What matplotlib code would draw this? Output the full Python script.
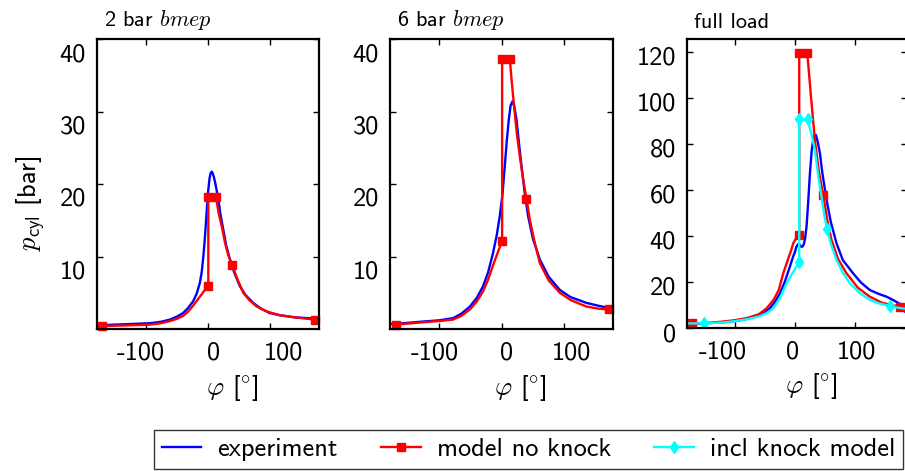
import matplotlib
matplotlib.use("Agg")
import matplotlib.pyplot as plt
import matplotlib.transforms as mtransforms

plt.rcParams["font.family"] = ["cmss10", "DejaVu Sans"]
plt.rcParams["mathtext.fontset"] = "cm"
plt.rcParams["axes.unicode_minus"] = False

# ---- data ------------------------------------------------------------
titles = ["2 bar $bmep$", "6 bar $bmep$", "full load"]

# 2 bar bmep
exp1_x = [-178, -150, -120, -93, -75, -61, -50, -40, -32, -24, -18, -13, -10,
          -7.5, -5.5, -3.7, -1.5, 0.5, 2.5, 4.2, 5.9, 7.5, 9.3, 11.2, 13.5,
          16.5, 20, 24.5, 29, 35.2, 42, 51.2, 60, 72.5, 85, 99, 115, 140, 160,
          178]
exp1_y = [0.5, 0.6, 0.7, 0.8, 1.0, 1.3, 1.7, 2.2, 2.9, 3.8, 4.9, 6.4, 7.9,
          10, 12, 14.2, 17, 19.2, 20.8, 21.5, 21.7, 21.5, 21.0, 20.3, 19.3,
          17.9, 15.8, 13.7, 11.6, 9.6, 7.8, 5.9, 4.7, 3.6, 2.8, 2.2, 1.9, 1.6,
          1.5, 1.4]
mod1_x = [-170, -130, -93, -75, -61, -50, -40, -32, -24, -17, -10, -5, 0.5,
          0.5, 12.8, 17, 21.9, 27, 32, 39, 47, 56.5, 66, 78, 95, 115, 140, 171]
mod1_y = [0.4, 0.5, 0.6, 0.8, 1.1, 1.4, 1.8, 2.4, 3.2, 4.0, 4.8, 5.4, 6.0,
          18.2, 18.2, 16.0, 14.2, 12.0, 10.3, 8.8, 6.9, 5.0, 4.0, 3.1, 2.4,
          1.9, 1.6, 1.3]
mod1_marks = [0, 12, 13, 14, 19, 27]

# 6 bar bmep
exp2_x = [-179, -170, -130, -100, -78, -65, -51, -40, -30, -22, -14, -8,
          -3.2, 1, 4.8, 8, 11.2, 14, 17.1, 20, 23.5, 27, 31.5, 36, 42, 50,
          60.8, 75, 92.8, 110, 135.5, 155, 171.7, 178]
exp2_y = [0.7, 0.7, 1.0, 1.2, 1.5, 2.1, 3.1, 4.3, 5.9, 7.8, 10.5, 13.0, 15.6,
          18.5, 22.5, 26, 28.9, 30.8, 31.4, 30.7, 28.9, 26, 22.5, 19.2, 15.6,
          12.4, 9.6, 7.2, 5.4, 4.4, 3.6, 3.2, 2.9, 2.8]
mod2_x = [-169.6, -130, -100, -78, -65, -51, -40, -30, -22, -14, -8, -3.2,
          0.5, 0.5, 12.8, 16, 19.7, 24, 28.8, 34, 39.4, 45, 52, 60.8, 75,
          92.8, 110, 135.5, 155, 171.7]
mod2_y = [0.6, 0.9, 1.1, 1.3, 1.8, 2.7, 3.8, 5.2, 6.8, 8.8, 10.2, 11.3, 12.2,
          37.3, 37.3, 34, 30.7, 27, 23.8, 20.8, 18.0, 15.0, 12.2, 9.1, 6.7,
          5.0, 4.0, 3.1, 2.8, 2.7]
mod2_marks = [0, 12, 13, 14, 20, 29]

# full load
exp3_x = [-180, -150, -120, -100, -80, -60, -50, -41.7, -33, -25, -17, -8.3,
          -3, 0, 2.5, 5.6, 8.5, 10.5, 12.8, 15, 17, 19.4, 22, 25, 28, 30.5,
          33, 35, 38, 41.7, 46, 52.8, 60, 69.4, 80, 97, 110, 125, 140, 153,
          165, 175, 180, 187]
exp3_y = [1.5, 2.0, 2.5, 3.0, 3.9, 5.5, 6.8, 8.6, 11.5, 15, 20, 26.7, 31, 33,
          35.3, 36.5, 36, 35.3, 35.4, 36.5, 39, 44, 54, 67, 77, 81.7, 83.6,
          83.9, 81, 76, 67, 55.7, 46, 36.8, 29.5, 23.8, 19.8, 16.5, 14.8,
          13.6, 12.0, 10.5, 8.5, 6.0]
mod3_x = [-171, -140, -120, -100, -80, -60, -47, -35, -27, -19.4, -12, -6,
          -2.8, 2, 7.2, 7.2, 20.6, 27, 33.3, 40, 47.2, 54, 61, 72, 86, 105,
          125, 145, 160, 175, 187]
mod3_y = [2.0, 2.3, 2.8, 3.4, 4.3, 6.0, 8.6, 12.5, 16.5, 23.8, 29.5, 34, 36.8,
          39.0, 40.4, 119.7, 119.7, 100, 81.7, 68, 57.8, 47, 38.3, 30, 23.8,
          17.5, 13.6, 11.0, 10.0, 9.3, 9.2]
mod3_marks = [0, 14, 15, 16, 20, 29]
knk3_x = [-180, -152, -120, -100, -80, -60, -47, -36, -25, -13.9, -6, 0, 7.2,
          7.2, 21.1, 27, 33.3, 39, 44.4, 49, 53.9, 60, 69.4, 80, 91.7, 108,
          125, 140, 158, 172, 187]
knk3_y = [2.0, 2.0, 2.4, 3.0, 3.8, 5.0, 6.5, 8.6, 13, 19.4, 23, 25.5, 28.8,
          90.7, 90.7, 85, 77.4, 66, 57, 49, 42.9, 36.5, 29.6, 24, 19.4, 15.2,
          12.2, 10.7, 9.6, 8.8, 8.3]
knk3_marks = [1, 12, 13, 14, 20, 28]

xticks = [-100, 0, 100]
xtick_labels = ["-100", "0", "100"]
yticks_low = [10, 20, 30, 40]
yticks_full = [0, 20, 40, 60, 80, 100, 120]

BLUE = "#0000ff"
RED = "#ff0000"
CYAN = "#00ffff"

W, H = 905, 471
fig = plt.figure(figsize=(W / 100, H / 100), dpi=100)


def px_axes(left, top, right, bottom):
    return fig.add_axes([left / W, 1 - bottom / H, (right - left) / W,
                         (bottom - top) / H])


def shift_labels(labels, offsets, axis):
    for lab, d in zip(labels, offsets):
        dx, dy = (d, 0) if axis == "x" else (0, d)
        off = mtransforms.ScaledTranslation(dx / 100, dy / 100,
                                            fig.dpi_scale_trans)
        lab.set_transform(lab.get_transform() + off)


def style(ax, xlim, ylim, yticks, xoff, yoff):
    ax.set_xlim(*xlim)
    ax.set_ylim(*ylim)
    ax.set_xticks(xticks, labels=xtick_labels)
    ax.set_yticks(yticks, labels=[str(t) for t in yticks])
    ax.tick_params(direction="in", top=True, right=True, length=4, width=1,
                   labelsize=19)
    ax.tick_params(axis="y", pad=8)
    ax.tick_params(axis="x", pad=9)
    for s in ax.spines.values():
        s.set_linewidth(1.6)
    shift_labels(ax.get_xticklabels(), xoff, "x")
    shift_labels(ax.get_yticklabels(), [yoff] * len(yticks), "y")


ax1 = px_axes(97, 39, 319, 329)
ax2 = px_axes(390, 39, 613, 329)
ax3 = px_axes(687, 39, 907, 328)

lw = 1.7
ax1.plot(exp1_x, exp1_y, color=BLUE, lw=lw)
ax1.plot(mod1_x, mod1_y, color=RED, lw=lw, marker="s", ms=6,
         markevery=mod1_marks, clip_on=False)
ax2.plot(exp2_x, exp2_y, color=BLUE, lw=lw)
ax2.plot(mod2_x, mod2_y, color=RED, lw=lw, marker="s", ms=6,
         markevery=mod2_marks, clip_on=False)
l_exp, = ax3.plot(exp3_x, exp3_y, color=BLUE, lw=lw)
l_mod, = ax3.plot(mod3_x, mod3_y, color=RED, lw=lw, marker="s", ms=6,
                  markevery=mod3_marks)
l_knk, = ax3.plot(knk3_x, knk3_y, color=CYAN, lw=lw, marker="d", ms=6,
                  markevery=knk3_marks)

style(ax1, (-178, 178), (0, 40), yticks_low, [-5, 6, 13], -13)
style(ax2, (-179, 178), (0, 40), yticks_low, [-5, 5, 7], -13)
style(ax3, (-180, 187), (0, 125.6), yticks_full, [-12, -2, 2], -4)

for ax, t in zip([ax1, ax2, ax3], titles):
    ax.text(0.03, 1.025, t, transform=ax.transAxes, fontsize=16,
            ha="left", va="bottom")

fig.text(31 / W, 1 - 203 / H, r"$p_{\mathsf{cyl}}$ [bar]", rotation=90,
         fontsize=19, ha="center", va="center")
for xc, yc in [(232, 388), (520, 388), (811, 386)]:
    fig.text(xc / W, 1 - yc / H, r"$\varphi$ [$^{\circ}$]", fontsize=19,
             ha="center", va="center")

leg = fig.legend([l_exp, l_mod, l_knk],
                 ["experiment", "model no knock", "incl knock model"],
                 loc="lower right", bbox_to_anchor=(903 / W, 2 / H), ncol=3,
                 fontsize=19, frameon=True, fancybox=False,
                 handlelength=1.5, columnspacing=1.65, handletextpad=0.6,
                 borderpad=0.3, borderaxespad=0)
leg.get_frame().set_edgecolor("black")
leg.get_frame().set_linewidth(1.0)

fig.savefig("out.png", dpi=100)
